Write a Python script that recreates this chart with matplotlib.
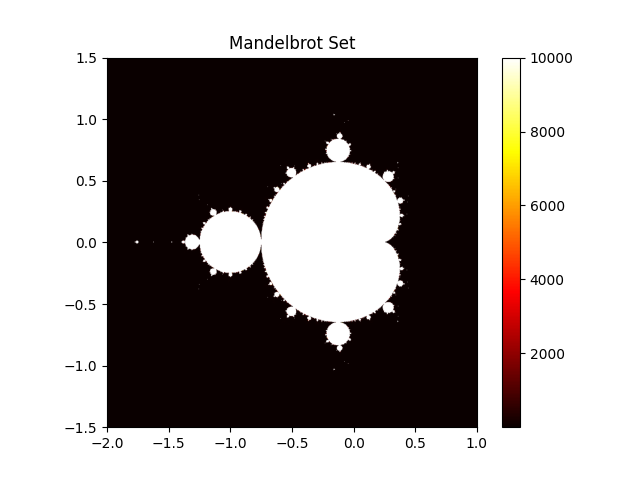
import numpy as np
import matplotlib
matplotlib.use("Agg")
import matplotlib.pyplot as plt

# region of the complex plane and escape-time settings
X_RANGE = (-2.0, 1.0)
Y_RANGE = (-1.5, 1.5)
MAX_ITER = 10000
N_X = 800
N_Y = 800


def mandelbrot(x_range, y_range, nx, ny, max_iter):
    x = np.linspace(x_range[0], x_range[1], nx)
    y = np.linspace(y_range[0], y_range[1], ny)
    c = (x[None, :] + 1j * y[:, None]).ravel()
    counts = np.zeros(c.shape, dtype=int)

    # main cardioid and period-2 bulb never escape, skip them
    q = (c.real - 0.25) ** 2 + c.imag ** 2
    cardioid = q * (q + (c.real - 0.25)) <= 0.25 * c.imag ** 2
    bulb = (c.real + 1) ** 2 + c.imag ** 2 <= 1 / 16
    inside = cardioid | bulb
    counts[inside] = max_iter

    idx = np.flatnonzero(~inside)
    cc = c[idx]
    z = np.zeros_like(cc)
    for n in range(max_iter):
        z = z * z + cc
        esc = (z.real * z.real + z.imag * z.imag) > 4.0
        if esc.any():
            counts[idx[esc]] = n + 1
            keep = ~esc
            idx, cc, z = idx[keep], cc[keep], z[keep]
        if idx.size == 0:
            break
    counts[idx] = max_iter
    return counts.reshape(ny, nx)


counts = mandelbrot(X_RANGE, Y_RANGE, N_X, N_Y, MAX_ITER)

fig, ax = plt.subplots(figsize=(6.4, 4.8), dpi=100)
im = ax.imshow(
    counts,
    cmap="hot",
    origin="lower",
    extent=[X_RANGE[0], X_RANGE[1], Y_RANGE[0], Y_RANGE[1]],
)
fig.colorbar(im, ax=ax)
ax.set_title("Mandelbrot Set")
fig.savefig("out.png", dpi=100)
